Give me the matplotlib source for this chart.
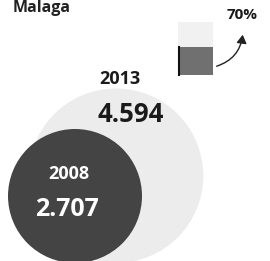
import matplotlib
matplotlib.use("Agg")
import matplotlib.pyplot as plt
from matplotlib.patches import Circle, Rectangle, FancyArrowPatch
import numpy as np

plt.rcParams['font.family'] = ['Open Sans', 'DejaVu Sans']

title = "Malaga"
years = ["2013", "2008"]
values = [4594, 2707]
value_labels = ["4.594", "2.707"]
growth_label = "70%"

W, H = 270, 261
fig = plt.figure(figsize=(W / 100, H / 100), dpi=100)
ax = fig.add_axes([0, 0, 1, 1])
ax.set_xlim(0, W)
ax.set_ylim(H, 0)
ax.set_aspect('equal')
ax.axis('off')

# bubble sizes from values (area-proportional)
k = 67 / np.sqrt(values[1])
radii = [k * np.sqrt(v) for v in values]
bottom = 263
centers_x = [116, 75]
colors = ["#ececec", "#444444"]
for cx, r, c in zip(centers_x, radii, colors):
    ax.add_patch(Circle((cx, bottom - r), r, facecolor=c, edgecolor='none', zorder=1))

# big bubble labels
ax.text(120, 79, years[0], ha='center', va='center', fontsize=13, fontweight='bold', color='#1a1a1a', zorder=3)
ax.text(131, 114, value_labels[0], ha='center', va='center', fontsize=18.5, fontweight='bold', color='#1a1a1a', zorder=3)
# small bubble labels
ax.text(69, 174, years[1], ha='center', va='center', fontsize=13, fontweight='bold', color='white', zorder=3)
ax.text(67, 210, value_labels[1], ha='center', va='center', fontsize=18, fontweight='bold', color='white', zorder=3)

# small icon: bar showing growth
ax.add_patch(Rectangle((178, 22), 35, 25, facecolor='#f1f1f1', edgecolor='none', zorder=2))
ax.add_patch(Rectangle((178, 47), 35, 28, facecolor='#707070', edgecolor='none', zorder=2))
ax.plot([179, 179], [47, 75], color='#111111', lw=1.5, zorder=3)
arr = FancyArrowPatch((214, 67), (243, 32), connectionstyle="arc3,rad=0.35",
                      arrowstyle='-|>,head_length=5,head_width=3', color='#222222', lw=1.0, zorder=3)
ax.add_patch(arr)
ax.text(242, 15, growth_label, ha='center', va='center', fontsize=11, fontweight='bold', color='#1a1a1a')

# title
ax.text(13, 0, title, ha='left', va='top', fontsize=11.5, fontweight='bold', color='#222222')

fig.savefig("out.png", dpi=100)
